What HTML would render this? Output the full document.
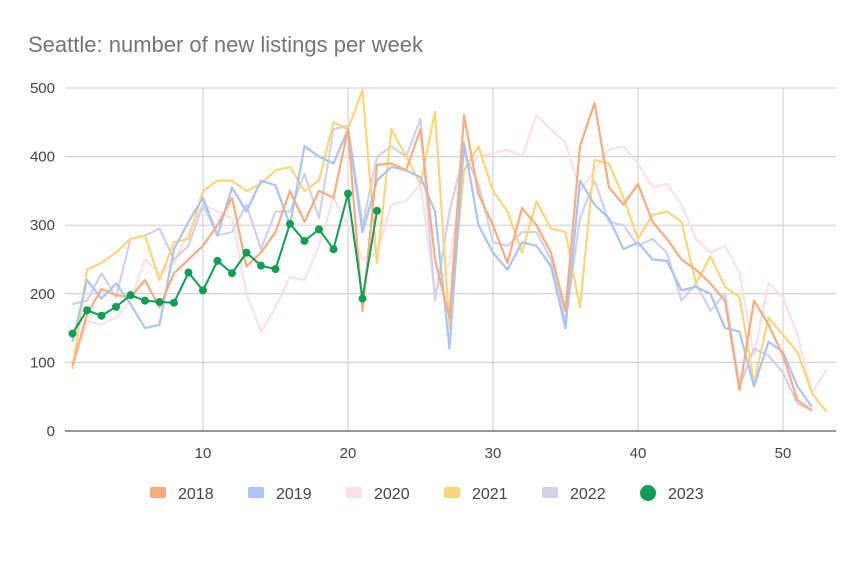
<!DOCTYPE html>
<html><head><meta charset="utf-8"><style>
body{margin:0;background:#fff;width:864px;height:576px;overflow:hidden}
svg{font-family:"Liberation Sans",Arial,sans-serif}
</style></head><body>
<svg id="s" width="864" height="576" xmlns="http://www.w3.org/2000/svg">
<rect width="864" height="576" fill="#fff"/>
<text x="28" y="52" font-size="22" fill="#757575">Seattle: number of new listings per week</text>
</svg>
<script>
const s=document.getElementById('s'),NS='http://www.w3.org/2000/svg';
function el(t,a,txt){const e=document.createElementNS(NS,t);for(const k in a)e.setAttribute(k,a[k]);if(txt!==undefined)e.textContent=txt;s.appendChild(e);return e;}
const X=w=>203+(w-10)*14.5, Y=v=>431-v*0.686;
for(let v=100;v<=500;v+=100)el('line',{x1:65,x2:836,y1:Y(v),y2:Y(v),stroke:'#cccccc','stroke-width':1});
for(let w=10;w<=50;w+=10)el('line',{x1:X(w),x2:X(w),y1:Y(500),y2:431,stroke:'#cccccc','stroke-width':1});
el('line',{x1:65,x2:836,y1:431,y2:431,stroke:'#333','stroke-width':1});
for(let v=0;v<=500;v+=100)el('text',{x:55,y:Y(v)+5,'font-size':15,fill:'#444','text-anchor':'end'},v);
for(let w=10;w<=50;w+=10)el('text',{x:X(w),y:458,'font-size':15,fill:'#444','text-anchor':'middle'},w);
const D={
'#fbe0e4':[95,160,155,165,190,250,230,245,290,330,320,310,200,145,180,225,220,270,340,300,250,260,330,335,360,200,245,380,400,405,410,400,460,440,420,350,380,410,415,390,355,360,330,280,260,270,230,110,215,195,140,55,90],
'#d3d0ec':[185,190,230,195,280,285,295,250,270,330,285,290,330,265,320,320,375,310,440,445,300,400,415,400,455,190,320,405,360,275,270,290,290,250,160,310,365,305,300,270,280,260,190,215,175,200,65,120,110,85,40,30],
'#fbd679':[90,235,245,260,280,285,220,275,280,350,365,365,350,360,380,385,350,365,450,440,497,245,440,400,360,465,150,380,415,350,320,260,335,295,290,180,395,390,340,280,315,320,305,215,255,210,195,70,165,140,115,55,28],
'#a9c4f5':[130,220,193,215,185,150,155,265,305,340,285,355,320,365,358,300,415,400,390,440,290,365,385,380,370,320,120,420,300,260,235,275,270,240,150,365,330,310,265,275,250,248,205,210,200,150,145,65,130,115,65,35],
'#f9ac7e':[95,170,207,198,195,220,180,230,250,270,300,340,240,260,290,350,305,350,340,440,175,388,390,380,440,250,165,460,345,300,245,325,300,260,175,415,478,355,330,360,305,280,250,235,215,190,60,190,155,110,45,30]};
for(const c in D)el('polyline',{points:D[c].map((v,i)=>X(i+1)+','+Y(v)).join(' '),fill:'none',stroke:c,'stroke-width':2.2,'stroke-linejoin':'round'});
const g=[142,176,168,181,198,190,188,187,231,205,248,230,260,241,236,302,277,294,265,346,193,321];
el('polyline',{points:g.map((v,i)=>X(i+1)+','+Y(v)).join(' '),fill:'none',stroke:'#0f9d58','stroke-width':2});
g.forEach((v,i)=>el('circle',{cx:X(i+1),cy:Y(v),r:4,fill:'#0f9d58'}));
const L=[['2018','#f9ac7e',150],['2019','#a9c4f5',248],['2020','#fbe0e4',346],['2021','#fbd679',444],['2022','#d3d0ec',542]];
L.forEach(([t,c,x])=>{el('rect',{x:x,y:487,width:16,height:11,rx:2,fill:c});el('text',{x:x+28,y:499,'font-size':16,fill:'#444'},t);});
el('circle',{cx:648,cy:493,r:8,fill:'#0f9d58'});el('text',{x:668,y:499,'font-size':16,fill:'#444'},'2023');
</script>
</body></html>
